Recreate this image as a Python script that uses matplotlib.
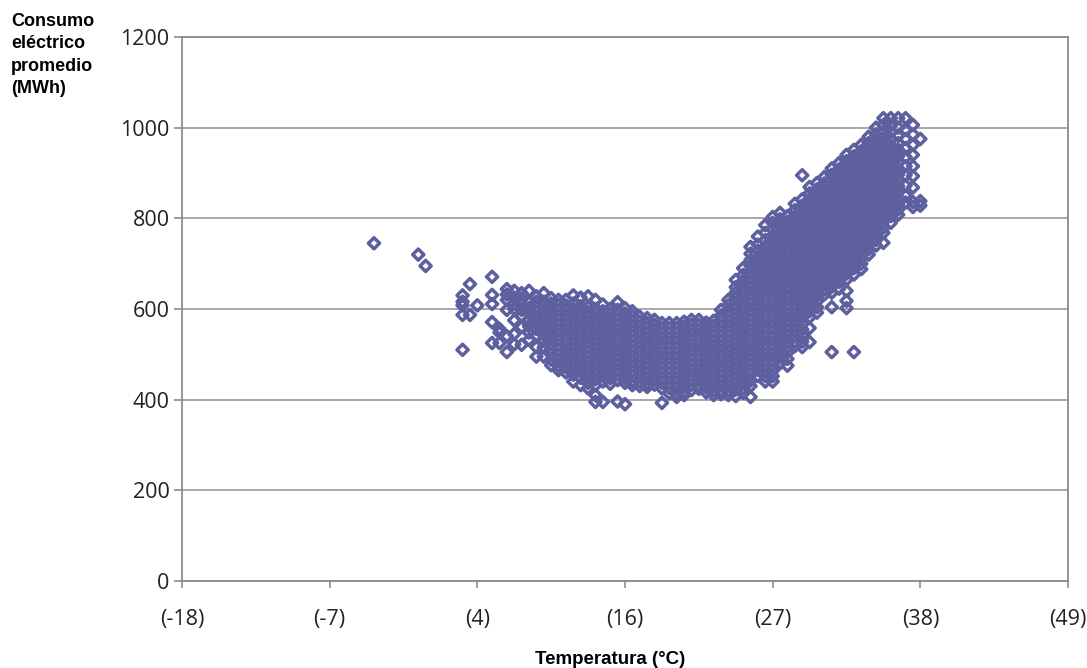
import matplotlib.pyplot as plt
import numpy as np

# temperatura en grados F (posicion en el eje), consumo diario en MWh por temperatura
temp_f = [26, 32, 33, 38, 39, 40, 42, 43, 44, 45, 46, 47, 48, 49,
          50, 51, 52, 53, 54, 55, 56, 57, 58, 59, 60, 61, 62, 63, 64,
          65, 66, 67, 68, 69, 70, 71, 72, 73, 74, 75, 76, 77, 78, 79,
          80, 81, 82, 83, 84, 85, 86, 87, 88, 89, 90, 91, 92, 93, 94,
          95, 96, 97, 98, 99, 100]

consumo = [
    [745],
    [720],
    [695],
    [630, 616, 608, 587, 510],
    [655, 587],
    [608],
    [671, 631, 611, 571, 525],
    [556, 548, 525],
    [644, 632, 620, 598, 540, 505],
    [640, 625, 612, 600, 575, 545, 522],
    [635, 622, 610, 598, 585, 560, 521],
    [640, 615, 602, 590, 576, 562, 548, 532],
    [628, 616, 604, 593, 581, 569, 556, 542, 516, 495],
    [635, 616, 605, 595, 584, 574, 563, 553, 543, 530, 515, 495],
    [624, 612, 601, 590, 579, 568, 557, 546, 535, 524, 512, 500, 488, 476],
    [620, 609, 598, 587, 576, 565, 554, 543, 532, 521, 510, 498, 486, 475, 465],
    [620, 608, 597, 586, 575, 564, 553, 542, 531, 520, 509, 497, 484, 472, 460],
    [630, 612, 600, 589, 578, 567, 556, 545, 534, 523, 512, 501, 490, 479, 467, 455, 440],
    [625, 606, 595, 584, 573, 562, 551, 540, 529, 518, 507, 496, 485, 474, 462, 448, 432],
    [628, 604, 593, 582, 571, 560, 549, 538, 527, 516, 505, 494, 483, 472, 461, 449, 437, 425],
    [620, 600, 589, 578, 567, 556, 545, 534, 523, 512, 501, 490, 479, 468, 457, 445, 432, 410, 395],
    [610, 595, 584, 573, 562, 551, 540, 529, 518, 507, 496, 485, 474, 463, 452, 440, 395],
    [600, 590, 579, 568, 557, 546, 535, 524, 513, 502, 491, 480, 469, 458, 447, 435],
    [615, 598, 587, 576, 565, 554, 543, 532, 521, 510, 499, 488, 477, 466, 455, 443, 396],
    [602, 590, 579, 568, 557, 546, 535, 524, 513, 502, 491, 480, 469, 458, 447, 437, 390],
    [595, 584, 573, 562, 551, 540, 529, 518, 507, 496, 485, 474, 463, 452, 441, 432],
    [583, 572, 561, 550, 539, 528, 517, 506, 495, 484, 473, 462, 451, 440, 430],
    [580, 569, 558, 547, 536, 525, 514, 503, 492, 481, 470, 459, 448, 437, 428],
    [576, 565, 554, 543, 532, 521, 510, 499, 488, 477, 466, 455, 444, 433],
    [569, 558, 547, 536, 525, 514, 503, 492, 481, 470, 459, 448, 437, 425, 393],
    [569, 558, 547, 536, 525, 514, 503, 492, 481, 470, 459, 448, 437, 426, 414],
    [569, 558, 547, 536, 525, 514, 503, 492, 481, 470, 459, 448, 437, 426, 415, 406],
    [572, 561, 550, 539, 528, 517, 506, 495, 484, 473, 462, 451, 440, 429, 418, 410],
    [576, 565, 554, 543, 532, 521, 510, 499, 488, 477, 466, 455, 444, 433, 421],
    [576, 565, 554, 543, 532, 521, 510, 499, 488, 477, 466, 455, 444, 433, 424],
    [570, 559, 548, 537, 526, 515, 504, 493, 482, 471, 460, 449, 438, 427, 416],
    [574, 563, 552, 541, 530, 519, 508, 497, 486, 475, 464, 453, 442, 431, 420, 410],
    [598, 585, 574, 563, 552, 541, 530, 519, 508, 497, 486, 475, 464, 453, 442, 431, 420, 412],
    [620, 608, 596, 585, 574, 563, 552, 541, 530, 519, 508, 497, 486, 475, 464, 453, 442, 431, 420, 410],
    [664, 648, 636, 624, 612, 600, 588, 577, 566, 555, 544, 533, 522, 511, 500, 489, 478, 467,
     456, 445, 434, 422, 408],
    [690, 675, 662, 650, 638, 626, 614, 602, 590, 579, 568, 557, 546, 535, 524, 513, 502, 491,
     480, 469, 458, 447, 436, 425, 415],
    [737, 722, 708, 695, 682, 670, 658, 646, 634, 622, 610, 598, 587, 576, 565, 554, 543, 532,
     521, 510, 499, 488, 477, 466, 455, 442, 430, 406],
    [760, 742, 728, 714, 700, 687, 674, 661, 648, 636, 624, 612, 600, 588, 576, 564, 552, 540,
     528, 516, 504, 492, 480, 466, 452],
    [785, 768, 752, 738, 724, 710, 697, 684, 671, 658, 645, 632, 620, 608, 596, 584, 572, 560,
     548, 536, 524, 512, 500, 488, 476, 464, 452, 440],
    [803, 790, 776, 762, 749, 736, 723, 710, 697, 684, 671, 658, 645, 632, 620, 608, 596, 584,
     572, 560, 548, 536, 524, 512, 500, 488, 476, 464, 452, 440],
    [812, 798, 784, 770, 757, 744, 731, 718, 705, 692, 679, 666, 653, 640, 628, 616, 604, 592,
     580, 568, 556, 544, 532, 520, 508, 494, 480],
    [805, 792, 779, 766, 753, 740, 727, 714, 701, 688, 675, 662, 649, 636, 624, 612, 600, 588,
     576, 564, 552, 540, 528, 516, 504, 490, 475],
    [832, 818, 805, 792, 779, 766, 753, 740, 727, 714, 701, 688, 675, 662, 649, 636, 624, 612,
     600, 588, 576, 564, 552, 540, 528, 518],
    [895, 842, 828, 815, 802, 789, 776, 763, 750, 737, 724, 711, 698, 685, 672, 659, 646, 633,
     620, 607, 594, 581, 568, 555, 542, 528, 516],
    [869, 855, 842, 829, 816, 803, 790, 777, 764, 751, 738, 725, 712, 699, 686, 673, 660, 647,
     634, 621, 608, 595, 582, 558, 527],
    [878, 864, 851, 838, 825, 812, 799, 786, 773, 760, 747, 734, 721, 708, 695, 682, 669, 656,
     643, 630, 617, 604, 592],
    [891, 877, 864, 851, 838, 825, 812, 799, 786, 773, 760, 747, 734, 721, 708, 695, 682, 669,
     656, 643, 632],
    [910, 896, 883, 870, 857, 844, 831, 818, 805, 792, 779, 766, 753, 740, 727, 714, 701, 688,
     675, 662, 649, 636, 604, 505],
    [922, 908, 895, 882, 869, 856, 843, 830, 817, 804, 791, 778, 765, 752, 739, 726, 713, 700,
     687, 674, 660, 645],
    [940, 926, 912, 899, 886, 873, 860, 847, 834, 821, 808, 795, 782, 769, 756, 743, 730, 717,
     704, 691, 678, 665, 640, 618, 602],
    [951, 937, 923, 910, 897, 884, 871, 858, 845, 832, 819, 806, 793, 780, 767, 754, 741, 728,
     715, 702, 690, 676, 505],
    [962, 948, 934, 921, 908, 895, 882, 869, 856, 843, 830, 817, 804, 791, 778, 765, 752, 739,
     726, 713, 700, 688],
    [980, 966, 952, 939, 926, 913, 900, 887, 874, 861, 848, 835, 822, 809, 796, 783, 770, 757,
     744, 732, 720],
    [1000, 985, 971, 958, 945, 932, 919, 906, 893, 880, 867, 854, 841, 828, 815, 802, 789, 776,
     764, 752, 740],
    [1021, 1006, 990, 976, 962, 949, 936, 923, 910, 897, 884, 871, 858, 845, 832, 819, 806, 793,
     780, 768, 746],
    [1021, 1005, 990, 975, 961, 948, 935, 922, 909, 896, 883, 870, 857, 844, 831, 818, 805, 790],
    [1021, 1000, 982, 966, 951, 937, 923, 910, 897, 884, 871, 858, 845, 832, 820, 808],
    [1021, 995, 975, 955, 935, 915, 895, 872, 850, 835],
    [1006, 985, 962, 940, 915, 893, 868, 836, 825],
    [975, 838, 828],
]

x_ticks_f = [0, 20, 40, 60, 80, 100, 120]
x_labels = ["(-18)", "(-7)", "(4)", "(16)", "(27)", "(38)", "(49)"]
y_ticks = [0, 200, 400, 600, 800, 1000, 1200]

xs = np.concatenate([[t] * len(v) for t, v in zip(temp_f, consumo)])
ys = np.concatenate([v for v in consumo])

plt.rcParams["font.family"] = ["Open Sans", "DejaVu Sans"]

fig = plt.figure(figsize=(10.87, 6.68), dpi=100)
ax = fig.add_axes([182 / 1087, 1 - 581 / 668, (1068 - 182) / 1087, (581 - 37) / 668])

ax.scatter(xs, ys, marker="D", s=32, facecolors="none", edgecolors="#5d5f9e",
           linewidths=2.5, zorder=3)

ax.set_xlim(0, 120)
ax.set_ylim(0, 1200)
ax.set_xticks(x_ticks_f)
ax.set_xticklabels(x_labels)
ax.set_yticks(y_ticks)
ax.grid(axis="y", color="#a0a0a0", linewidth=1.3)
ax.set_axisbelow(True)
for side in ["left", "right", "bottom", "top"]:
    ax.spines[side].set_color("#8c8c8c")
    ax.spines[side].set_linewidth(1.3)
ax.tick_params(axis="y", length=6, width=1.2, color="#8c8c8c", labelsize=15.5, pad=3,
               labelcolor="#222222")
ax.tick_params(axis="x", length=5, width=1.2, color="#8c8c8c", labelsize=15.5, pad=15,
               labelcolor="#222222")

fig.text(11 / 1087, 1 - 13 / 668, "Consumo\neléctrico\npromedio\n(MWh)", ha="left", va="top",
         fontsize=13, fontweight="bold", family="Liberation Sans", linespacing=1.42)
fig.text(610 / 1087, 1 - 659 / 668, "Temperatura (°C)", ha="center", va="center",
         fontsize=13.5, fontweight="bold", family="Liberation Sans")

fig.savefig("out.png", dpi=100)
